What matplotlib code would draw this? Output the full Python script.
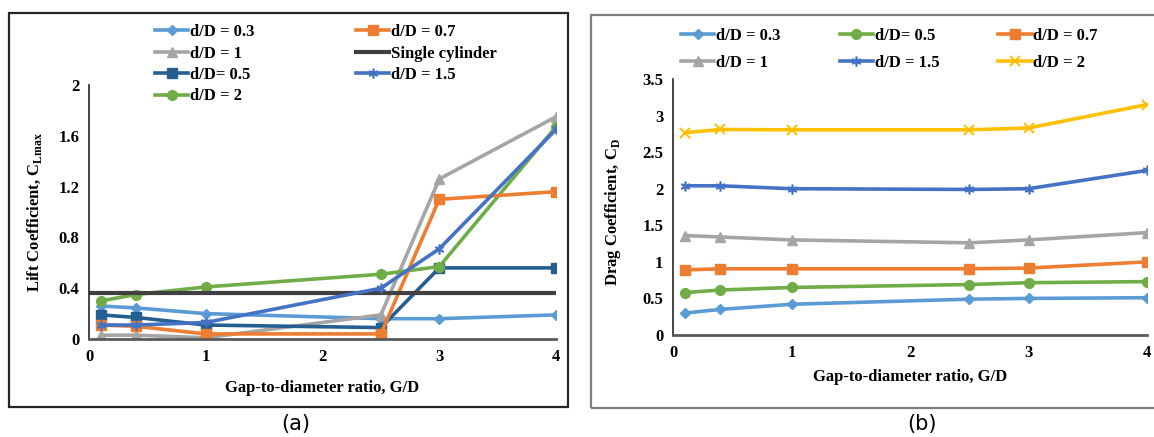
import matplotlib
matplotlib.use("Agg")
import matplotlib.pyplot as plt
from matplotlib.patches import Rectangle

plt.rcParams['font.family'] = 'Liberation Serif'
plt.rcParams['font.weight'] = 'bold'
plt.rcParams['mathtext.fontset'] = 'custom'
plt.rcParams['mathtext.rm'] = 'Liberation Serif:bold'

# gap-to-diameter ratio
gd = [0.1, 0.4, 1, 2.5, 3, 4]

# (a) lift coefficient
cl_03 = [0.26, 0.245, 0.20, 0.16, 0.16, 0.19]
cl_07 = [0.11, 0.10, 0.04, 0.04, 1.10, 1.16]
cl_1 = [0.03, 0.03, 0.01, 0.19, 1.26, 1.75]
cl_05 = [0.19, 0.17, 0.11, 0.09, 0.56, 0.56]
cl_15 = [0.11, 0.11, 0.13, 0.40, 0.71, 1.65]
cl_2 = [0.30, 0.35, 0.41, 0.51, 0.57, 1.67]
single_x = [0, 4]
single_cl = [0.36, 0.36]

# (b) drag coefficient
cd_03 = [0.30, 0.35, 0.42, 0.49, 0.50, 0.51]
cd_05 = [0.58, 0.615, 0.65, 0.69, 0.715, 0.73]
cd_07 = [0.89, 0.905, 0.905, 0.905, 0.915, 1.00]
cd_1 = [1.36, 1.34, 1.30, 1.26, 1.30, 1.40]
cd_15 = [2.04, 2.04, 2.00, 1.99, 2.00, 2.25]
cd_2 = [2.765, 2.81, 2.805, 2.805, 2.83, 3.15]

lift_ticks = [0, 0.4, 0.8, 1.2, 1.6, 2]
lift_labels = ['0', '0.4', '0.8', '1.2', '1.6', '2']
drag_ticks = [0, 0.5, 1, 1.5, 2, 2.5, 3, 3.5]
drag_labels = ['0', '0.5', '1', '1.5', '2', '2.5', '3', '3.5']

c_lblue = '#5B9BD5'
c_orange = '#ED7D31'
c_gray = '#A5A5A5'
c_dblue = '#255E91'
c_blue = '#4472C4'
c_green = '#70AD47'
c_yellow = '#FFC000'
star = (6, 2, 0)

W, H = 1154, 437
fig = plt.figure(figsize=(W / 100, H / 100), dpi=100)

# panel frames
fig.patches.append(Rectangle((9 / W, (H - 407) / H), (568 - 9) / W, (407 - 13) / H,
                             transform=fig.transFigure, fill=False,
                             edgecolor='#262626', lw=1.6))
fig.patches.append(Rectangle((591 / W, (H - 408) / H), (1170 - 591) / W, (408 - 15) / H,
                             transform=fig.transFigure, fill=False,
                             edgecolor='#7F7F7F', lw=1.6))


def style_axes(ax):
    ax.spines['top'].set_visible(False)
    ax.spines['right'].set_visible(False)
    ax.spines['left'].set_color('#262626')
    ax.spines['left'].set_linewidth(1.2)
    ax.spines['bottom'].set_color('#595959')
    ax.spines['bottom'].set_linewidth(2)
    ax.tick_params(length=0, labelsize=12, pad=7)
    ax.set_xticks([0, 1, 2, 3, 4])
    ax.set_xticklabels(['0', '1', '2', '3', '4'])
    for t in ax.get_xticklabels() + ax.get_yticklabels():
        t.set_fontweight('bold')


lw = 2.6
leg_font = {'family': 'Liberation Serif', 'weight': 'bold', 'size': 12}

# ---- (a) ----
ax1 = fig.add_axes([89 / W, (H - 339) / H, (556 - 89) / W, (339 - 85) / H])
ax1.plot(gd, cl_03, color=c_lblue, lw=lw, marker='D', ms=5, label='d/D = 0.3')
ax1.plot(gd, cl_1, color=c_gray, lw=lw, marker='^', ms=7, label='d/D = 1')
ax1.plot(gd, cl_05, color=c_dblue, lw=lw, marker='s', ms=7, label='d/D= 0.5')
ax1.plot(gd, cl_2, color=c_green, lw=lw, marker='o', ms=7, label='d/D = 2')
ax1.plot(gd, cl_07, color=c_orange, lw=lw, marker='s', ms=7, label='d/D = 0.7')
ax1.plot(single_x, single_cl, color='#404040', lw=3, label='Single cylinder')
ax1.plot(gd, cl_15, color=c_blue, lw=lw, marker=star, ms=7, mew=1.2, label='d/D = 1.5')
ax1.set_xlim(0, 4)
ax1.set_ylim(0, 2)
ax1.set_yticks(lift_ticks)
ax1.set_yticklabels(lift_labels)
style_axes(ax1)
ax1.set_xlabel('Gap-to-diameter ratio, G/D', fontsize=12, fontweight='bold')
ax1.xaxis.set_label_coords(0.5, -0.161)
ax1.set_ylabel(r'Lift Coefficient, C$_{\mathregular{Lmax}}$', fontsize=12, fontweight='bold')
ax1.yaxis.set_label_coords(-0.097, 0.5)

leg1 = fig.legend(handles=ax1.get_lines(), loc='upper left',
                  bbox_to_anchor=(155 / W, 1 - 24 / H), ncol=2, frameon=False,
                  prop=leg_font, handlelength=2.0, handletextpad=0.1,
                  columnspacing=6.1, labelspacing=0.33, borderaxespad=0, borderpad=0)

# ---- (b) ----
ax2 = fig.add_axes([673 / W, (H - 335) / H, (1147 - 673) / W, (335 - 79) / H])
ax2.plot(gd, cd_03, color=c_lblue, lw=lw, marker='D', ms=5, label='d/D = 0.3')
ax2.plot(gd, cd_1, color=c_gray, lw=lw, marker='^', ms=7, label='d/D = 1')
ax2.plot(gd, cd_05, color=c_green, lw=lw, marker='o', ms=7, label='d/D= 0.5')
ax2.plot(gd, cd_15, color=c_blue, lw=lw, marker=star, ms=7, mew=1.2, label='d/D = 1.5')
ax2.plot(gd, cd_07, color=c_orange, lw=lw, marker='s', ms=7, label='d/D = 0.7')
ax2.plot(gd, cd_2, color=c_yellow, lw=lw, marker='x', ms=7, mew=1.5, label='d/D = 2')
ax2.set_xlim(0, 4)
ax2.set_ylim(0, 3.5)
ax2.set_yticks(drag_ticks)
ax2.set_yticklabels(drag_labels)
style_axes(ax2)
ax2.set_xlabel('Gap-to-diameter ratio, G/D', fontsize=12, fontweight='bold')
ax2.xaxis.set_label_coords(0.5, -0.133)
ax2.set_ylabel(r'Drag Coefficient, C$_{\mathregular{D}}$', fontsize=12, fontweight='bold')
ax2.yaxis.set_label_coords(-0.106, 0.48)

leg2 = fig.legend(handles=ax2.get_lines(), loc='upper left',
                  bbox_to_anchor=(681 / W, 1 - 28 / H), ncol=3, frameon=False,
                  prop=leg_font, handlelength=2.0, handletextpad=0.1,
                  columnspacing=3.55, labelspacing=0.68, borderaxespad=0, borderpad=0)

fig.text(296 / W, 1 - 424 / H, '(a)', ha='center', va='center', fontsize=15,
         family='DejaVu Sans', fontweight='normal')
fig.text(922 / W, 1 - 424 / H, '(b)', ha='center', va='center', fontsize=15,
         family='DejaVu Sans', fontweight='normal')

fig.savefig('out.png', dpi=100)
